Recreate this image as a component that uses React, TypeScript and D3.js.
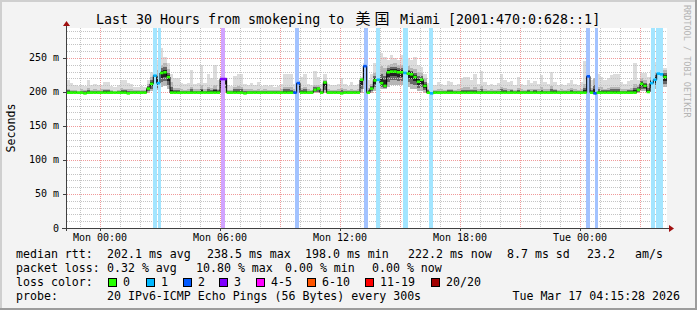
import React from "react";
import * as d3 from "d3";

// ---------- data ----------
// time in hours relative to Mon 00:00; 10-minute buckets starting Sun 22:20
const bucketStartHour = -5 / 3;
const bucketHours = 1 / 6;
const domainHours = [-1.65, 28.35];

const medianMs = [
  199, 199, 199, 199, 199, 198, 199, 199, 199, 199,
  199, 199, 199, 199, 199, 199, 199, 199, 198, 199,
  199, 199, 199, 199, 205, 212, 224, 213, 228, 229,
  222, 199, 199, 199, 199, 199, 199, 199, 199, 199,
  199, 199, 199, 199, 199, 199, 219, 219, 199, 199,
  199, 199, 199, 198, 199, 199, 199, 199, 199, 199,
  199, 199, 199, 199, 199, 199, 199, 199, 199, 213,
  199, 199, 199, 199, 203, 205, 199, 214, 199, 199,
  199, 199, 198, 199, 199, 199, 199, 199, 218, 238,
  199, 205, 217, 218, 213, 209, 229, 230, 230, 229,
  229, 228, 227, 226, 222, 215, 218, 209, 199, 198,
  199, 199, 199, 199, 199, 199, 199, 199, 199, 199,
  199, 199, 199, 199, 199, 199, 199, 199, 199, 199,
  199, 199, 199, 199, 199, 199, 199, 199, 199, 199,
  199, 199, 199, 199, 199, 199, 199, 199, 199, 199,
  199, 199, 199, 199, 199, 199, 223, 199, 198, 199,
  199, 199, 199, 199, 199, 199, 199, 199, 199, 199,
  199, 203, 212, 209, 200, 213, 218, 227, 226, 222,
];

const smokeHiMs = [
  218, 213, 210, 209, 211, 209, 218, 211, 212, 210,
  211, 215, 215, 209, 208, 210, 218, 217, 213, 212,
  208, 207, 209, 208, 218, 230, 237, 247, 264, 252,
  242, 227, 220, 220, 213, 212, 213, 232, 212, 213,
  240, 213, 227, 220, 240, 217, 223, 212, 210, 209,
  224, 226, 226, 212, 211, 213, 210, 214, 209, 211,
  209, 210, 208, 209, 212, 227, 227, 226, 212, 218,
  222, 227, 212, 211, 231, 222, 212, 227, 212, 211,
  210, 212, 220, 212, 209, 214, 210, 212, 222, 242,
  218, 227, 242, 252, 257, 252, 247, 254, 250, 247,
  254, 245, 250, 247, 252, 240, 237, 227, 213, 208,
  210, 214, 212, 210, 216, 215, 210, 212, 220, 222,
  222, 218, 226, 212, 231, 214, 210, 212, 210, 213,
  227, 218, 214, 216, 210, 222, 212, 210, 217, 213,
  216, 212, 225, 214, 212, 230, 215, 211, 212, 210,
  213, 218, 212, 211, 214, 246, 232, 218, 220, 226,
  222, 218, 220, 225, 227, 226, 214, 212, 216, 218,
  242, 218, 228, 228, 222, 232, 244, 247, 240, 235,
];

const smokeUpMs = [
  205, 203, 203, 202, 204, 203, 206, 203, 204, 203,
  204, 205, 205, 203, 202, 203, 206, 205, 204, 204,
  203, 203, 203, 203, 212, 222, 234, 232, 240, 242,
  234, 214, 206, 206, 204, 203, 204, 208, 204, 204,
  210, 204, 208, 206, 210, 205, 221, 221, 203, 203,
  208, 209, 208, 204, 204, 204, 203, 204, 203, 204,
  203, 203, 203, 203, 204, 208, 208, 207, 204, 216,
  206, 208, 204, 203, 210, 210, 204, 217, 204, 203,
  203, 204, 206, 204, 203, 204, 203, 204, 221, 240,
  206, 212, 228, 236, 238, 236, 240, 241, 242, 240,
  240, 238, 238, 236, 234, 230, 228, 220, 205, 203,
  203, 204, 204, 203, 205, 205, 203, 204, 206, 207,
  207, 205, 207, 204, 209, 204, 203, 204, 203, 204,
  208, 206, 204, 205, 203, 206, 204, 203, 205, 204,
  205, 204, 207, 204, 204, 209, 205, 203, 204, 203,
  204, 206, 204, 203, 204, 212, 222, 206, 220, 208,
  207, 205, 206, 208, 208, 208, 204, 204, 205, 206,
  212, 210, 220, 218, 212, 222, 230, 238, 236, 232,
];

const smokeLoMs = [
  198, 198, 198, 198, 198, 198, 198, 198, 198, 198,
  198, 198, 198, 198, 198, 198, 198, 198, 198, 198,
  198, 198, 198, 198, 199, 201, 205, 203, 207, 209,
  205, 199, 198, 198, 198, 198, 198, 198, 198, 198,
  198, 198, 198, 198, 198, 198, 198, 198, 198, 198,
  198, 198, 198, 198, 198, 198, 198, 198, 198, 198,
  198, 198, 198, 198, 198, 198, 198, 198, 198, 198,
  198, 198, 198, 198, 198, 198, 198, 198, 198, 198,
  198, 198, 198, 198, 198, 198, 198, 198, 198, 205,
  198, 199, 202, 205, 205, 205, 208, 210, 210, 210,
  210, 208, 207, 205, 204, 202, 201, 199, 198, 198,
  198, 198, 198, 198, 198, 198, 198, 198, 198, 198,
  198, 198, 198, 198, 198, 198, 198, 198, 198, 198,
  198, 198, 198, 198, 198, 198, 198, 198, 198, 198,
  198, 198, 198, 198, 198, 198, 198, 198, 198, 198,
  198, 198, 198, 198, 198, 198, 198, 198, 198, 198,
  198, 198, 198, 198, 198, 198, 198, 198, 198, 198,
  198, 199, 201, 201, 199, 202, 205, 208, 208, 207,
];

// loss events (hours from Mon 00:00) and lost pings out of 20
const lossStart = [2.65, 2.9, 6.025, 9.75, 13.2, 13.8, 15.15, 16.45, 24.3, 24.75, 27.55, 27.8];
const lossEnd = [2.825, 3.05, 6.25, 9.925, 13.4, 14.0, 15.4, 16.65, 24.5, 24.9, 27.75, 28.15];
const lossCount = [1, 1, 3, 2, 2, 1, 1, 1, 2, 2, 1, 1];

const lossLabels = ["0", "1", "2", "3", "4-5", "6-10", "11-19", "20/20"];
const lossColors = ["#26ff00", "#00b8ff", "#0059ff", "#7e00ff", "#ff00ff", "#ff5500", "#ff0000", "#a10000"];

const yMaxMs = 294.1;
const yTickValues = [0, 50, 100, 150, 200, 250];
const yTickLabels = ["0", "50 m", "100 m", "150 m", "200 m", "250 m"];
const xTickHours = [0, 6, 12, 18, 24];
const xTickLabels = ["Mon 00:00", "Mon 06:00", "Mon 12:00", "Mon 18:00", "Tue 00:00"];

const titleParts = ["Last 30 Hours from smokeping to", "美国", "Miami [2001:470:0:628::1]"];
const statsRtt = ["median rtt:", "202.1 ms avg", "238.5 ms max", "198.0 ms min", "222.2 ms now", "8.7 ms sd", "23.2", "am/s"];
const statsLoss = ["packet loss:", "0.32 % avg", "10.80 % max", "0.00 % min", "0.00 % now"];
const lossColorLabel = "loss color:";
const probeLabel = "probe:";
const probeText = "20 IPv6-ICMP Echo Pings (56 Bytes) every 300s";
const stampText = "Tue Mar 17 04:15:28 2026";
const watermark = "RRDTOOL / TOBI OETIKER";
const yAxisTitle = "Seconds";

// ---------- layout ----------
const W = 697;
const H = 310;
const PL = 67, PR = 667, PT = 28, PB = 228;
const MONO = "'DejaVu Sans Mono', monospace";
const rttX = [16, 107, 207, 305, 408, 507, 587, 635];
const lossX = [16, 107, 196, 285, 372];
const boxX = [108, 146, 183, 219, 256, 307, 365, 431];

function lossLevel(n: number) {
  if (n <= 0) return 0;
  if (n === 1) return 1;
  if (n === 2) return 2;
  if (n === 3) return 3;
  if (n <= 5) return 4;
  if (n <= 10) return 5;
  if (n <= 19) return 6;
  return 7;
}

export default function App() {
  const x = d3.scaleLinear().domain(domainHours).range([PL, PR]);
  const y = d3.scaleLinear().domain([0, yMaxMs]).range([PB, PT]);
  const n = medianMs.length;
  const t0 = (i: number) => bucketStartHour + i * bucketHours;
  const bx0 = (i: number) => Math.max(PL, x(t0(i)));
  const bx1 = (i: number) => Math.min(PR, x(t0(i + 1)));

  const bucketLoss = d3.range(n).map((i) => {
    const a = t0(i), b = t0(i + 1);
    for (let k = 0; k < lossStart.length; k++) {
      const ov = Math.min(b, lossEnd[k]) - Math.max(a, lossStart[k]);
      if (ov >= bucketHours * 0.4) return lossLevel(lossCount[k]);
    }
    return 0;
  });

  const smokeLayers = [
    { fill: "#dcdcdc", lo: (i: number) => smokeLoMs[i], hi: (i: number) => smokeHiMs[i] },
    { fill: "#b6b6b6", lo: (i: number) => smokeLoMs[i], hi: (i: number) => smokeUpMs[i] },
    {
      fill: "#686868",
      lo: (i: number) => smokeLoMs[i] + (medianMs[i] - smokeLoMs[i]) * 0.35,
      hi: (i: number) => medianMs[i] + (smokeUpMs[i] - medianMs[i]) * 0.55,
    },
    {
      fill: "#222222",
      lo: (i: number) => medianMs[i] - (medianMs[i] - smokeLoMs[i]) * 0.35,
      hi: (i: number) => medianMs[i] + (smokeUpMs[i] - medianMs[i]) * 0.3,
    },
  ];

  const hourLines = d3.range(Math.ceil(domainHours[0]), Math.floor(domainHours[1]) + 1);
  const minorMs = d3.range(10, yMaxMs, 10).filter((v) => v % 50 !== 0);
  const majorMs = d3.range(50, yMaxMs, 50);

  const stepPts: [number, number][] = [];
  for (let i = 0; i < n; i++) {
    stepPts.push([bx0(i), y(medianMs[i])]);
  }
  stepPts.push([bx1(n - 1), y(medianMs[n - 1])]);
  const stepLine = d3.line().curve(d3.curveStepAfter)(stepPts) || "";

  const px = (v: number) => Math.round(v) + 0.5;

  return (
    <svg
      width={W}
      height={H}
      viewBox={`0 0 ${W} ${H}`}
      style={{ position: "absolute", left: 0, top: 0, display: "block" }}
      fontFamily={MONO}
    >
      <rect x={0} y={0} width={W} height={H} fill="#f3f3f3" />
      <rect x={0} y={0} width={W} height={2} fill="#cfcfcf" />
      <rect x={0} y={0} width={2} height={H} fill="#cfcfcf" />
      <rect x={0} y={H - 2} width={W} height={2} fill="#9c9c9c" />
      <rect x={W - 2} y={0} width={2} height={H} fill="#9c9c9c" />

      <rect x={PL} y={PT} width={PR - PL} height={PB - PT} fill="#ffffff" />

      {/* smoke */}
      <g shapeRendering="crispEdges">
        {smokeLayers.map((L, li) => (
          <g key={li} fill={L.fill}>
            {d3.range(n).map((i) => {
              const top = y(L.hi(i));
              const bot = y(L.lo(i));
              if (bot - top <= 0) return null;
              return <rect key={i} x={bx0(i)} y={top} width={bx1(i) - bx0(i)} height={bot - top} />;
            })}
          </g>
        ))}
      </g>

      {/* grid */}
      <g strokeWidth={1} strokeDasharray="1,1" fill="none">
        {minorMs.map((v) => (
          <line key={"hm" + v} x1={PL} x2={PR} y1={px(y(v))} y2={px(y(v))} stroke="#c4c4c4" />
        ))}
        {hourLines.filter((h) => h % 3 !== 0).map((h) => (
          <line key={"vm" + h} x1={px(x(h))} x2={px(x(h))} y1={PT} y2={PB} stroke="#c4c4c4" />
        ))}
        {majorMs.map((v) => (
          <line key={"hM" + v} x1={PL} x2={PR} y1={px(y(v))} y2={px(y(v))} stroke="#f09a9a" />
        ))}
        {hourLines.filter((h) => h % 3 === 0).map((h) => (
          <line key={"vM" + h} x1={px(x(h))} x2={px(x(h))} y1={PT} y2={PB} stroke="#f09a9a" />
        ))}
      </g>

      {/* loss background bars */}
      <g shapeRendering="crispEdges">
        {lossStart.map((s, k) => (
          <rect
            key={k}
            x={x(s)}
            y={PT}
            width={x(lossEnd[k]) - x(s)}
            height={PB - PT}
            fill={d3.interpolateRgb("#ffffff", lossColors[lossLevel(lossCount[k])])(0.36)}
          />
        ))}
      </g>

      {/* median */}
      <path d={stepLine} fill="none" stroke="#000000" strokeWidth={1} />
      <g>
        {d3.range(n).map((i) => (
          <rect
            key={i}
            x={bx0(i)}
            y={y(medianMs[i]) - 1.3}
            width={bx1(i) - bx0(i)}
            height={2.6}
            fill={lossColors[bucketLoss[i]]}
          />
        ))}
      </g>

      {/* axes */}
      <g stroke="#404040" strokeWidth={1} shapeRendering="crispEdges">
        <line x1={62} x2={669} y1={PB + 0.5} y2={PB + 0.5} />
        <line x1={PL - 0.5} x2={PL - 0.5} y1={PB + 3} y2={PT - 2} />
        {yTickValues.map((v) => (
          <line key={v} x1={PL - 4} x2={PL} y1={px(y(v))} y2={px(y(v))} />
        ))}
        {xTickHours.map((h) => (
          <line key={h} x1={px(x(h))} x2={px(x(h))} y1={PB} y2={PB + 3} />
        ))}
      </g>
      <path d={`M${PL - 0.5 - 3.5},${PT - 2} L${PL - 0.5 + 3.5},${PT - 2} L${PL - 0.5},${PT - 7} Z`} fill="#a01010" />
      <path d={`M669,${PB + 0.5 - 3.5} L669,${PB + 0.5 + 3.5} L674,${PB + 0.5} Z`} fill="#a01010" />

      {/* axis labels */}
      <g fontSize={10} fill="#000">
        {yTickValues.map((v, k) => (
          <text key={v} x={59} y={y(v) + 3.5} textAnchor="end">{yTickLabels[k]}</text>
        ))}
        {xTickHours.map((h, k) => (
          <text key={h} x={x(h)} y={241} textAnchor="middle">{xTickLabels[k]}</text>
        ))}
      </g>

      <text transform="translate(15,128) rotate(-90)" textAnchor="middle" fontSize={11.6} fill="#000">
        {yAxisTitle}
      </text>

      {/* title */}
      <text y={24} fontSize={13.3} fill="#000">
        <tspan x={96}>{titleParts[0]}</tspan>
        <tspan x="355.5 374.5" fontFamily="'Noto Sans CJK SC', sans-serif" fontSize={15}>{titleParts[1]}</tspan>
        <tspan x={400}>{titleParts[2]}</tspan>
      </text>

      {/* watermark */}
      <text transform="translate(684,5) rotate(90)" fontSize={8.5} fill="#b4b4b4">
        {watermark}
      </text>

      {/* legend */}
      <g fontSize={11.6} fill="#000" style={{ whiteSpace: "pre" }}>
        {statsRtt.map((s, k) => (
          <text key={"r" + k} x={rttX[k]} y={258}>{s}</text>
        ))}
        {statsLoss.map((s, k) => (
          <text key={"l" + k} x={lossX[k]} y={272}>{s}</text>
        ))}
        <text x={16} y={286}>{lossColorLabel}</text>
        {lossLabels.map((s, k) => (
          <g key={"b" + k}>
            <rect x={boxX[k] + 0.5} y={278.5} width={8} height={8} fill={lossColors[k]} stroke="#000" strokeWidth={1} />
            <text x={boxX[k] + 15} y={286}>{s}</text>
          </g>
        ))}
        <text x={16} y={300}>{probeLabel}</text>
        <text x={107} y={300}>{probeText}</text>
        <text x={680} y={300} textAnchor="end">{stampText}</text>
      </g>
    </svg>
  );
}
